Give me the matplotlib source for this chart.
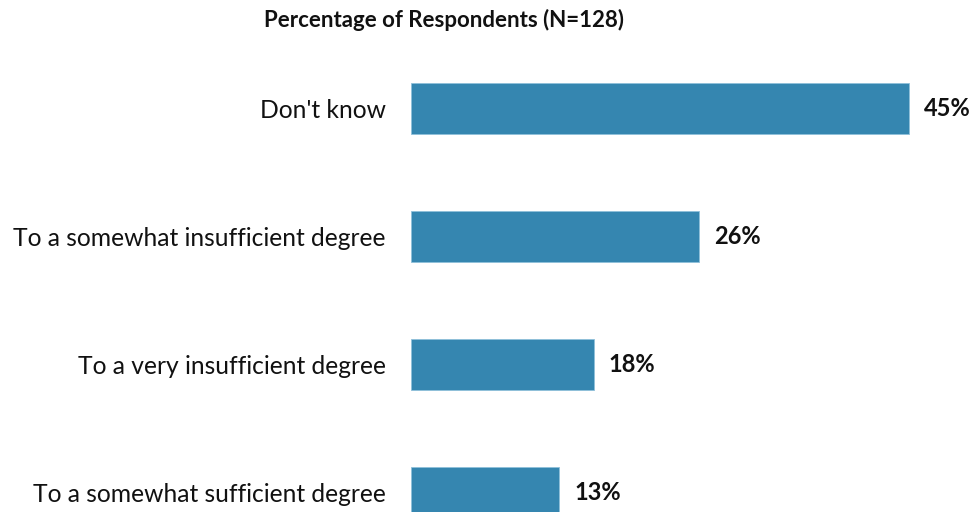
import matplotlib
matplotlib.use("Agg")
import matplotlib.pyplot as plt

categories = ["Don't know", "To a somewhat insufficient degree",
              "To a very insufficient degree", "To a somewhat sufficient degree"]
values = [45, 26, 16.5, 13.4]
value_labels = ["45%", "26%", "18%", "13%"]
title = "Percentage of Respondents (N=128)"

W, H = 979, 512
fig = plt.figure(figsize=(W / 100, H / 100), dpi=100)
ax_left, ax_top, ax_bottom = 411, 44, 512
ax = fig.add_axes([ax_left / W, 0, (W - ax_left) / W, (ax_bottom - ax_top) / H])

px_per_unit = 498 / 45
ax.set_xlim(0, (W - ax_left) / px_per_unit)
ax.set_ylim(3.152, -0.504)

ypos = list(range(len(categories)))
ax.barh(ypos, values, height=0.4, color="#3586b0", edgecolor="#8fc0da", linewidth=0.6)
for y, v, lab in zip(ypos, values, value_labels):
    ax.annotate(lab, (v, y), xytext=(11, 0), textcoords="offset points",
                ha="left", va="center", fontsize=17, fontweight="bold",
                family="Lato", color="#111111")
ax.set_yticks(ypos)
ax.set_yticklabels(categories, fontsize=17.7, family="Lato", color="#111111")
ax.tick_params(axis="y", length=0, pad=18)
ax.set_xticks([])
for s in ax.spines.values():
    s.set_visible(False)

fig.text(444 / W, 1 - 20 / H, title, ha="center", va="center",
         fontsize=16, fontweight="bold", family="Lato", color="#111111")

fig.savefig("out.png", dpi=100)
